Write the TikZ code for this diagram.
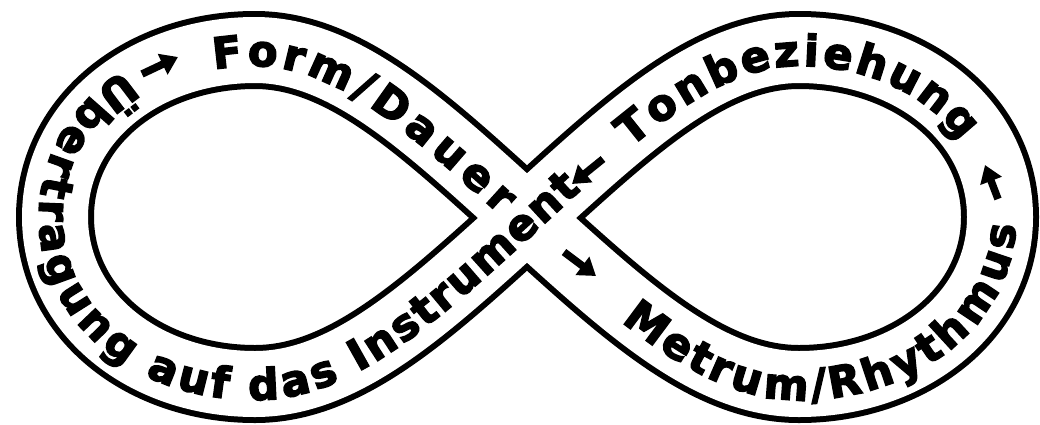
\documentclass[tikz,border=0pt]{standalone}
\usepackage{fontspec}
\newfontfamily\heavyfont{DejaVu Sans}[FakeBold=3.5]
\usetikzlibrary{arrows.meta, decorations.text}
\newcommand\bandfont{\heavyfont\bfseries\fontsize{43pt}{43pt}\selectfont}

\begin{document}
\begin{tikzpicture}[
  x=1pt, y=-1pt,
  band/.style={draw=black, line width=6pt, double=white, double distance=66pt, line join=round},
  bandtext/.style={decorate, decoration={text along path, text color=black, raise=-16pt}},
  pointer/.style={-{Triangle[length=17pt, width=22pt]}, line width=7.5pt, draw=black}
]
\useasboundingbox (0,0) rectangle (1040,424);
% lobe points
\coordinate (mid) at (527,218);
\coordinate (tl) at (255,50);
\coordinate (ll) at (55,217);
\coordinate (bl) at (255,384);
\coordinate (tr) at (799,50);
\coordinate (rr) at (1000,217);
\coordinate (br) at (799,384);

% the band
\draw[band] (mid) .. controls (425,125) and (345,50) .. (tl)
  .. controls (145,50) and (55,120) .. (ll)
  .. controls (55,314) and (145,384) .. (bl)
  .. controls (345,384) and (425,311) .. (mid)
  .. controls (629,125) and (709,50) .. (tr)
  .. controls (909,50) and (1000,120) .. (rr)
  .. controls (1000,314) and (909,384) .. (br)
  .. controls (709,384) and (629,311) .. cycle;

% texts
\path[bandtext, decoration={text={|\bandfont|Form/Dauer}, text align={fit to path, left indent=247pt, right indent=22pt}}]
  (ll) .. controls (55,120) and (145,50) .. (tl) .. controls (345,50) and (425,125) .. (mid);
\path[bandtext, decoration={text={|\bandfont|Metrum/Rhythmus}, text align={fit to path, left indent=138pt, right indent=6pt}}]
  (mid) .. controls (629,311) and (709,384) .. (br) .. controls (909,384) and (1000,314) .. (rr);
\path[bandtext, decoration={text={|\bandfont|Tonbeziehung}, text align={fit to path, left indent=125pt, right indent=92pt}}]
  (mid) .. controls (629,125) and (709,50) .. (tr) .. controls (909,50) and (1000,120) .. (rr);
\path[bandtext, decoration={text={|\bandfont|Übertragung auf das Instrument}, text align={fit to path, left indent=128pt, right indent=40pt}}]
  (tl) .. controls (145,50) and (55,120) .. (ll) .. controls (55,314) and (145,384) .. (bl)
  .. controls (345,384) and (425,311) .. (mid) -- (600,151);

% arrows
\coordinate (a1s) at (142,74);  \coordinate (a1e) at (178,57);
\coordinate (a2s) at (603,159); \coordinate (a2e) at (572,184);
\coordinate (a3s) at (564,252); \coordinate (a3e) at (596,276);
\coordinate (a4s) at (998,199); \coordinate (a4e) at (985,165);
\draw[pointer] (a1s) -- (a1e);
\draw[pointer] (a2s) -- (a2e);
\draw[pointer] (a3s) -- (a3e);
\draw[pointer] (a4s) -- (a4e);
\end{tikzpicture}
\end{document}
